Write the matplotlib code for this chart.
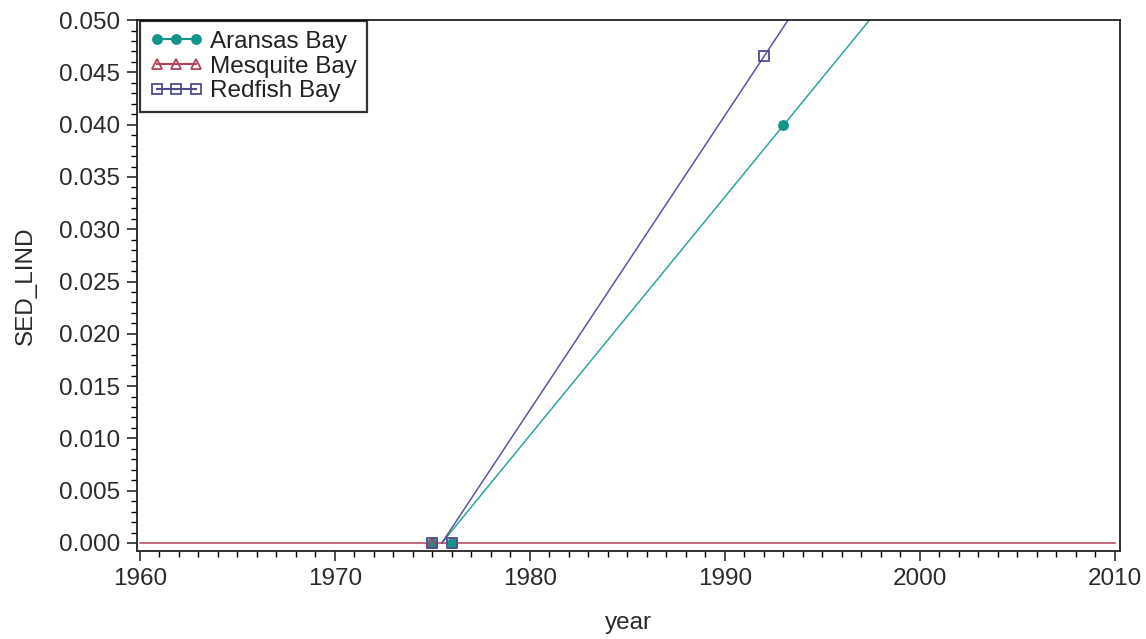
import numpy as np
import matplotlib
matplotlib.use('Agg')
import matplotlib.pyplot as plt
from matplotlib.ticker import MultipleLocator, FormatStrFormatter
from matplotlib.lines import Line2D

# observed points per bay (year, SED_LIND)
aransas_years = [1975, 1976, 1993]
aransas_vals = [0.0, 0.0, 0.0400]
mesquite_years = [1975]
mesquite_vals = [0.0]
redfish_years = [1975, 1976, 1992]
redfish_vals = [0.0, 0.0, 0.0466]

series_names = ['Aransas Bay', 'Mesquite Bay', 'Redfish Bay']

x_range = (1960, 2010)
y_range = (0.0, 0.050)

plt.rcParams['font.family'] = ['Liberation Sans', 'DejaVu Sans']


def reg_line(years, vals):
    # SAS-style regression line, clipped to the axis order range
    if len(set(years)) > 1:
        m, b = np.polyfit(years, vals, 1)
    else:
        m, b = 0.0, float(np.mean(vals))
    if m == 0:
        return list(x_range), [b, b]
    xa = (y_range[0] - b) / m
    xb = (y_range[1] - b) / m
    x0 = max(x_range[0], min(xa, xb))
    x1 = min(x_range[1], max(xa, xb))
    return [x0, x1], [m * x0 + b, m * x1 + b]


fig = plt.figure(figsize=(11.46, 6.39), dpi=100)
ax = fig.add_axes([0.1195, 0.1377, 0.8578, 0.8313])

styles = [
    dict(color='#13938a', line='#2aa69c', marker='o', mfc='#13938a', ms=6.5),
    dict(color='#b0435a', line='#b0435a', marker='^', mfc='none', ms=6.5),
    dict(color='#4f4c8e', line='#5a579a', marker='s', mfc='none', ms=6.5),
]
data = [(aransas_years, aransas_vals), (mesquite_years, mesquite_vals),
        (redfish_years, redfish_vals)]

handles = []
for (yrs, vals), st, name in zip(data, styles, series_names):
    lx, ly = reg_line(yrs, vals)
    ax.plot(lx, ly, color=st['line'], lw=1.1, zorder=2)
    ax.plot(yrs, vals, ls='none', marker=st['marker'], ms=st['ms'],
            mfc=st['mfc'], mec=st['color'], mew=1.3, zorder=3)
    handles.append(Line2D([0], [0], color=st['color'], lw=1.5, marker=st['marker'],
                          ms=st['ms'], mfc=st['mfc'], mec=st['color'], mew=1.3,
                          label=name))

ax.set_xlim(1959.85, 2010.26)
ax.set_ylim(-0.00077, 0.05003)

ax.xaxis.set_major_locator(MultipleLocator(10))
ax.xaxis.set_minor_locator(MultipleLocator(1))
ax.yaxis.set_major_locator(MultipleLocator(0.005))
ax.yaxis.set_minor_locator(MultipleLocator(0.001))
ax.yaxis.set_major_formatter(FormatStrFormatter('%.3f'))

ax.tick_params(which='major', length=7, width=1.2, labelsize=17.5, colors='#2a2a2a',
               direction='out', pad=5)
ax.tick_params(which='minor', length=4, width=1.0, direction='out')
for sp in ax.spines.values():
    sp.set_linewidth(1.3)
    sp.set_color('#222222')

ax.set_xlabel('year', fontsize=17.5, color='#2a2a2a', labelpad=16)
ax.set_ylabel('SED_LIND', fontsize=17.5, color='#2a2a2a', labelpad=16)

leg = ax.legend(handles=handles, loc='upper left', bbox_to_anchor=(0.003, 0.998),
                borderaxespad=0, fancybox=False, frameon=True, fontsize=17.5,
                numpoints=3, handlelength=2.2, handletextpad=0.3,
                labelspacing=0.12, borderpad=0.4)
leg.get_frame().set_edgecolor('black')
leg.get_frame().set_linewidth(1.6)
for t in leg.get_texts():
    t.set_color('#222222')

fig.savefig('out.png', dpi=100)
